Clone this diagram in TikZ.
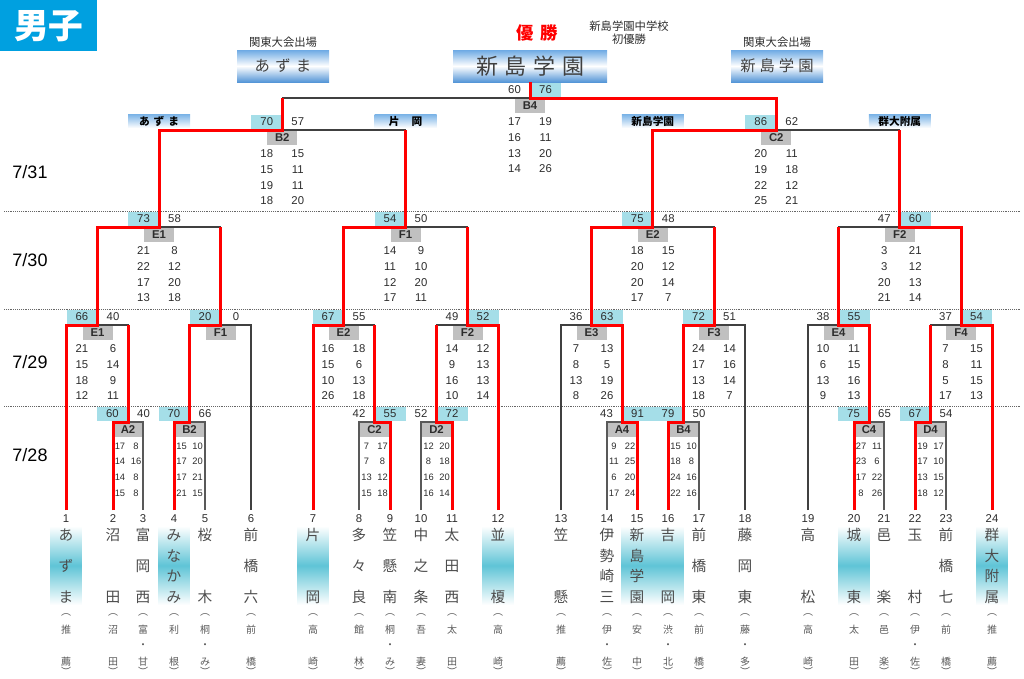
\documentclass[tikz,border=0pt]{standalone}
\usepackage{fontspec}
\setmainfont{Liberation Sans}
\newfontfamily\jp{Noto Sans CJK JP}
\definecolor{cyanc}{RGB}{165,222,232}
\definecolor{hdrg}{RGB}{192,192,192}
\definecolor{hlc}{RGB}{95,196,214}
\definecolor{lbl}{RGB}{120,178,230}
\definecolor{bb1}{RGB}{110,170,228}
\definecolor{bb2}{RGB}{85,150,215}
\definecolor{dz}{RGB}{0,160,224}
\definecolor{txt}{RGB}{45,45,45}
\newcommand\rdx{15.5}
\newcommand\M[9]{%
  \coordinate (#1) at (#2,#3);
  \node[hdr] (#1h) at (#2,#3+7.5) {#4};
  \node[sc,#7] (#1l) at (#2-15.5,#3-8.5) {#5};
  \node[sc,#8] (#1r) at (#2+15.5,#3-8.5) {#6};
  \if\relax\detokenize{#9}\relax\else
  \foreach \sa/\sb [count=\si] in {#9} {%
    \node[rw] (#1a\si) at (#2-\rdx,{#3+24+15.67*(\si-1)}) {\sa};
    \node[rw] (#1b\si) at (#2+\rdx,{#3+24+15.67*(\si-1)}) {\sb};}%
  \fi
}
\newcommand\Team[7]{%
  \coordinate (P#1) at (#2,510);
  \node[num] (N#1) at (#2,519) {#1};
  \foreach \ch [count=\ci] in {#4} {\node[nm] (T#1x\ci) at (#2,{535+(\ci-1)*62/(#3-1)}) {\ch};}
  \node[pr] (Q#1o) at (#2,615) {︵};
  \node[pr] (Q#1a) at (#2,630) {#5};
  \ifnum#7=1 \node[pr] (Q#1d) at (#2,646) {・};\fi
  \node[pr] (Q#1b) at (#2,662) {#6};
  \node[pr] (Q#1c) at (#2,671) {︶};
}
\newcommand\Hl[2]{\shade[top color=white,bottom color=white,middle color=hlc] (#1-15.5,526) rectangle (#2+15.5,605);}
\begin{document}
\begin{tikzpicture}[x=0.75pt,y=-0.75pt,
  hdr/.style={fill=hdrg, minimum width=22.5pt, minimum height=10.5pt, inner sep=0pt, font=\bfseries\fontsize{8.5}{9}\selectfont, text=txt},
  sc/.style={minimum width=23.25pt, minimum height=10.5pt, inner sep=0pt, font=\fontsize{8.5}{9}\selectfont, text=txt},
  ws/.style={fill=cyanc}, ls/.style={},
  rw/.style={inner sep=0pt, font=\fontsize{8.5}{9}\selectfont, text=txt},
  num/.style={inner sep=0pt, font=\fontsize{8.5}{9}\selectfont, text=txt},
  nm/.style={inner sep=0pt, font=\jp\fontsize{11}{11}\selectfont, text=black!70},
  pr/.style={inner sep=0pt, font=\jp\fontsize{7.5}{8}\selectfont, text=black!65},
  date/.style={inner sep=0pt, font=\fontsize{13.5}{14}\selectfont},
  tl/.style={top color=lbl, bottom color=white, minimum width=46.5pt, minimum height=10.5pt, inner sep=0pt, font=\jp\bfseries\fontsize{8}{9}\selectfont},
  bigbox/.style={top color=bb1, bottom color=bb2, middle color=white, inner sep=0pt},
  thinl/.style={draw=black!75, line width=0.8pt},
  box28/.style={draw=black!65, line width=1.4pt},
  rd/.style={draw=red, line width=2.25pt, line join=miter},
  sep/.style={draw=black!60, line width=0.7pt, dash pattern=on 0.7pt off 0.7pt}]
\useasboundingbox (0,0) rectangle (1024,678);
% header
\node[fill=dz, minimum width=72.75pt, minimum height=38.25pt, anchor=north west, inner sep=0pt, text=white, font=\jp\bfseries\fontsize{26}{26}\selectfont] (dz) at (0,0) {男子};
\node[inner sep=0pt, text=red, font=\jp\bfseries\fontsize{13}{13}\selectfont] (yu) at (537,33) {優\hspace{5pt}勝};
\node[inner sep=0pt, text=txt, font=\jp\fontsize{8.5}{10}\selectfont, align=center] (sh) at (629,33) {新島学園中学校\\初優勝};
\node[inner sep=0pt, text=txt, font=\jp\fontsize{8.5}{9}\selectfont] (k1) at (283,42) {関東大会出場};
\node[inner sep=0pt, text=txt, font=\jp\fontsize{8.5}{9}\selectfont] (k2) at (777,42) {関東大会出場};
\node[bigbox, minimum width=69pt, minimum height=24pt, font=\jp\fontsize{11.5}{12}\selectfont, text=black!75] (kb1) at (283,66) {あ\hspace{4pt}ず\hspace{4pt}ま};
\node[bigbox, minimum width=69pt, minimum height=24pt, font=\jp\fontsize{11.5}{12}\selectfont, text=black!75] (kb2) at (777,66) {新\hspace{3pt}島\hspace{3pt}学\hspace{3pt}園};
\node[bigbox, minimum width=115.5pt, minimum height=24pt, font=\jp\fontsize{16.5}{17}\selectfont, text=black!75] (champ) at (530,66) {新\hspace{5pt}島\hspace{5pt}学\hspace{5pt}園};
% dates
\node[date] (d31) at (30,172) {7/31};
\node[date] (d30) at (30,260) {7/30};
\node[date] (d29) at (30,362) {7/29};
\node[date] (d28) at (30,455) {7/28};
% separators
\draw[sep] (4,211) -- (1020,211);
\draw[sep] (4,309) -- (1020,309);
\draw[sep] (4,406) -- (1020,406);
% name highlights
\Hl{66}{66}\Hl{174}{174}\Hl{313}{313}\Hl{498}{498}\Hl{637}{668}\Hl{854}{854}\Hl{992}{992}
% teams
\Team{1}{66}{3}{あ,ず,ま}{推}{薦}{0}
\Team{2}{113}{2}{沼,田}{沼}{田}{0}
\Team{3}{143}{3}{富,岡,西}{富}{甘}{1}
\Team{4}{174}{4}{み,な,か,み}{利}{根}{0}
\Team{5}{205}{2}{桜,木}{桐}{み}{1}
\Team{6}{251}{3}{前,橋,六}{前}{橋}{0}
\Team{7}{313}{2}{片,岡}{高}{崎}{0}
\Team{8}{359}{3}{多,々,良}{館}{林}{0}
\Team{9}{390}{3}{笠,懸,南}{桐}{み}{1}
\Team{10}{421}{3}{中,之,条}{吾}{妻}{0}
\Team{11}{452}{3}{太,田,西}{太}{田}{0}
\Team{12}{498}{2}{並,榎}{高}{崎}{0}
\Team{13}{561}{2}{笠,懸}{推}{薦}{0}
\Team{14}{607}{4}{伊,勢,崎,三}{伊}{佐}{1}
\Team{15}{637}{4}{新,島,学,園}{安}{中}{0}
\Team{16}{668}{2}{吉,岡}{渋}{北}{1}
\Team{17}{699}{3}{前,橋,東}{前}{橋}{0}
\Team{18}{745}{3}{藤,岡,東}{藤}{多}{1}
\Team{19}{808}{2}{高,松}{高}{崎}{0}
\Team{20}{854}{2}{城,東}{太}{田}{0}
\Team{21}{884}{2}{邑,楽}{邑}{楽}{0}
\Team{22}{915}{2}{玉,村}{伊}{佐}{1}
\Team{23}{946}{3}{前,橋,七}{前}{橋}{0}
\Team{24}{992}{4}{群,大,附,属}{推}{薦}{0}
% 7/28
\renewcommand\rdx{8}
\tikzset{rw/.style={inner sep=0pt, font=\fontsize{7}{7.5}\selectfont, text=txt}}
\M{aA2}{128}{422}{A2}{60}{40}{ws}{ls}{17/8,14/16,14/8,15/8}
\M{aB2}{189.5}{422}{B2}{70}{66}{ws}{ls}{15/10,17/20,17/21,21/15}
\M{aC2}{374.5}{422}{C2}{42}{55}{ls}{ws}{7/17,7/8,13/12,15/18}
\M{aD2}{436.5}{422}{D2}{52}{72}{ls}{ws}{12/20,8/18,16/20,16/14}
\M{aA4}{622}{422}{A4}{43}{91}{ls}{ws}{9/22,11/25,6/20,17/24}
\M{aB4}{683.5}{422}{B4}{79}{50}{ws}{ls}{15/10,18/8,24/16,22/16}
\M{aC4}{869}{422}{C4}{75}{65}{ws}{ls}{27/11,23/6,17/22,8/26}
\M{aD4}{930.5}{422}{D4}{67}{54}{ws}{ls}{19/17,17/10,13/15,18/12}
% 7/29
\renewcommand\rdx{15.5}
\tikzset{rw/.style={inner sep=0pt, font=\fontsize{8.5}{9}\selectfont, text=txt}}
\M{bE1}{97.5}{325}{E1}{66}{40}{ws}{ls}{21/6,15/14,18/9,12/11}
\M{bF1}{220.5}{325}{F1}{20}{0}{ws}{ls}{}
\M{bE2}{343.5}{325}{E2}{67}{55}{ws}{ls}{16/18,15/6,10/13,26/18}
\M{bF2}{467.5}{325}{F2}{49}{52}{ls}{ws}{14/12,9/13,16/13,10/14}
\M{bE3}{591.5}{325}{E3}{36}{63}{ls}{ws}{7/13,8/5,13/19,8/26}
\M{bF3}{714}{325}{F3}{72}{51}{ws}{ls}{24/14,17/16,13/14,18/7}
\M{bE4}{838.5}{325}{E4}{38}{55}{ls}{ws}{10/11,6/15,13/16,9/13}
\M{bF4}{961}{325}{F4}{37}{54}{ls}{ws}{7/15,8/11,5/15,17/13}
% 7/30
\M{cE1}{159}{227}{E1}{73}{58}{ws}{ls}{21/8,22/12,17/20,13/18}
\M{cF1}{405.5}{227}{F1}{54}{50}{ws}{ls}{14/9,11/10,12/20,17/11}
\M{cE2}{652.75}{227}{E2}{75}{48}{ws}{ls}{18/15,20/12,20/14,17/7}
\M{cF2}{899.75}{227}{F2}{47}{60}{ls}{ws}{3/21,3/12,20/13,21/14}
% 7/31
\M{dB2}{282.25}{130}{B2}{70}{57}{ws}{ls}{18/15,15/11,19/11,18/20}
\M{dC2}{776.25}{130}{C2}{86}{62}{ws}{ls}{20/11,19/18,22/12,25/21}
\node[tl] (t1) at (159,121) {あ\hspace{3pt}ず\hspace{3pt}ま};
\node[tl] (t2) at (405.5,121) {片\hspace{9pt}岡};
\node[tl] (t3) at (652.75,121) {新島学園};
\node[tl] (t4) at (899.75,121) {群大附属};
% final
\M{fin}{530}{98}{B4}{60}{76}{ls}{ws}{17/19,16/11,13/20,14/26}
% black brackets
\draw[box28] (P2) |- (aA2) -| (P3);
\draw[box28] (P4) |- (aB2) -| (P5);
\draw[box28] (P8) |- (aC2) -| (P9);
\draw[box28] (P10) |- (aD2) -| (P11);
\draw[box28] (P14) |- (aA4) -| (P15);
\draw[box28] (P16) |- (aB4) -| (P17);
\draw[box28] (P20) |- (aC4) -| (P21);
\draw[box28] (P22) |- (aD4) -| (P23);
\draw[thinl] (P1) |- (bE1) -| (aA2);
\draw[thinl] (aB2) |- (bF1) -| (P6);
\draw[thinl] (P7) |- (bE2) -| (aC2);
\draw[thinl] (aD2) |- (bF2) -| (P12);
\draw[thinl] (P13) |- (bE3) -| (aA4);
\draw[thinl] (aB4) |- (bF3) -| (P18);
\draw[thinl] (P19) |- (bE4) -| (aC4);
\draw[thinl] (aD4) |- (bF4) -| (P24);
\draw[thinl] (bE1) |- (cE1) -| (bF1);
\draw[thinl] (bE2) |- (cF1) -| (bF2);
\draw[thinl] (bE3) |- (cE2) -| (bF3);
\draw[thinl] (bE4) |- (cF2) -| (bF4);
\draw[thinl] (cE1) |- (dB2) -| (cF1);
\draw[thinl] (cE2) |- (dC2) -| (cF2);
\draw[thinl] (dB2) |- (fin) -| (dC2);
% red paths
\draw[rd] (P1) |- (bE1) |- (cE1) |- (dB2) -- (dB2 |- fin);
\draw[rd] (P2) |- (aA2) -- (aA2 |- bE1);
\draw[rd] (P4) |- (aB2) |- (bF1) -- (bF1 |- cE1);
\draw[rd] (P7) |- (bE2) |- (cF1) -- (cF1 |- dB2);
\draw[rd] (P9) |- (aC2) -- (aC2 |- bE2);
\draw[rd] (P11) |- (aD2) -- (aD2 |- bF2);
\draw[rd] (P12) |- (bF2) -- (bF2 |- cF1);
\draw[rd] (P15) |- (aA4) |- (bE3) |- (cE2) |- (dC2) |- (fin) -- (champ.south);
\draw[rd] (P16) |- (aB4) |- (bF3) -- (bF3 |- cE2);
\draw[rd] (P20) |- (aC4) |- (bE4) -- (bE4 |- cF2);
\draw[rd] (P22) |- (aD4) -- (aD4 |- bF4);
\draw[rd] (P24) |- (bF4) |- (cF2) -- (cF2 |- dC2);
\end{tikzpicture}
\end{document}
